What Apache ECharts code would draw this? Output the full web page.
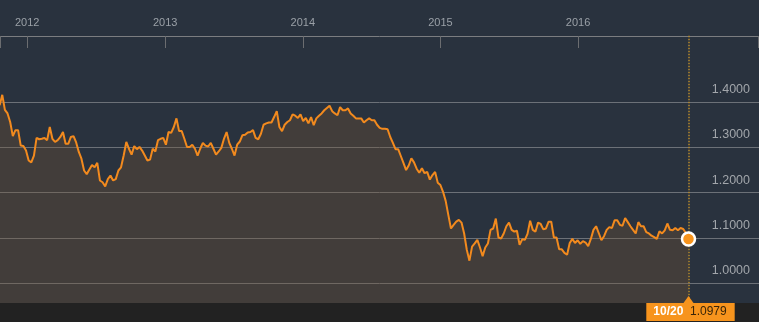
<!DOCTYPE html>
<html><head><meta charset="utf-8">
<script src="https://cdn.jsdelivr.net/npm/echarts@6/dist/echarts.min.js"></script>
<style>html,body{margin:0;padding:0;background:#29323e;overflow:hidden}#c{width:759px;height:330px}</style>
</head><body><div id="c"></div>
<script>
// Weekly EUR/USD closes, first week 2011-10-20, last week 2016-10-20
const firstWeek = [2011, 9, 20];
const rateA = [1.393,1.416,1.383,1.375,1.356,1.325,1.338,1.338,1.304,1.303,1.293,1.271,1.267,1.282,1.321,1.318,1.319,1.321,1.316,1.345,1.319,1.312,1.316,1.323,1.334,1.308,1.308,1.323,1.325,1.311,1.290,1.275,1.249,1.241,1.251,1.261,1.256,1.266,1.227,1.223,1.214,1.230,1.238,1.227,1.230,1.249,1.256,1.282,1.312,1.297,1.284,1.303,1.296,1.301,1.293];
const rateB = [1.282,1.271,1.273,1.297,1.291,1.316,1.319,1.321,1.306,1.334,1.332,1.345,1.364,1.336,1.336,1.319,1.301,1.301,1.306,1.297,1.282,1.297,1.310,1.304,1.302,1.310,1.297,1.284,1.291,1.299,1.319,1.334,1.310,1.297,1.282,1.306,1.313,1.327,1.328,1.333,1.334,1.338,1.321,1.318,1.330,1.350,1.353,1.355,1.355,1.367,1.380,1.345];
const rateC = [1.336,1.350,1.356,1.360,1.373,1.370,1.365,1.373,1.358,1.365,1.353,1.367,1.349,1.364,1.370,1.375,1.382,1.387,1.392,1.380,1.375,1.371,1.389,1.382,1.382,1.386,1.375,1.370,1.364,1.364,1.364,1.355,1.360,1.364,1.360,1.360,1.350,1.343,1.341,1.341,1.340,1.323,1.310,1.296,1.296,1.281,1.266,1.250,1.260,1.276,1.267,1.253,1.244];
const rateD = [1.254,1.243,1.246,1.229,1.239,1.246,1.222,1.217,1.202,1.182,1.151,1.121,1.129,1.136,1.140,1.134,1.110,1.074,1.050,1.081,1.088,1.096,1.079,1.060,1.079,1.088,1.118,1.121,1.143,1.101,1.099,1.110,1.126,1.134,1.118,1.114,1.116,1.085,1.097,1.096,1.109,1.138,1.118,1.114,1.134,1.131,1.119,1.121,1.136,1.136,1.101,1.101,1.075,1.075];
const rateE = [1.067,1.063,1.089,1.098,1.089,1.095,1.087,1.093,1.090,1.082,1.098,1.118,1.126,1.111,1.095,1.104,1.118,1.124,1.122,1.139,1.139,1.129,1.127,1.144,1.135,1.126,1.118,1.110,1.135,1.126,1.126,1.113,1.110,1.105,1.102,1.098,1.115,1.110,1.117,1.132,1.118,1.117,1.122,1.117,1.122,1.120,1.111,1.0979];
const yTicks = [1.0, 1.1, 1.2, 1.3, 1.4];
const yearLabels = ['2012', '2013', '2014', '2015', '2016'];

const values = [].concat(rateA, rateB, rateC, rateD, rateE);
const dates = values.map((_, i) => new Date(firstWeek[0], firstWeek[1], firstWeek[2] + i * 7).getTime());
const seriesData = dates.map((d, i) => [d, values[i]]);
const lastDate = dates[dates.length - 1];
const lastValue = values[values.length - 1];
const yearStarts = yearLabels.map(y => new Date(+y, 0, 1).getTime());

const DAY = 86400000;
const X_MIN = new Date(2011, 9, 21).getTime();
const X_MAX = new Date(2017, 3, 25).getTime();
const Y_MIN = 0.9, Y_MAX = 1.6;
const Y_VIEW_TOP = 1.5464, Y_VIEW_BOTTOM = 0.9565;
const FONT = '"Liberation Sans", Arial, sans-serif';
const ORANGE = '#f7941d';
const GRID_COLOR = '#6c7178';

const pad2 = n => String(n).padStart(2, '0');
const ld = new Date(lastDate);
const tagText = `{d|${pad2(ld.getMonth() + 1)}/${pad2(ld.getDate())}}  {v|${lastValue.toFixed(4)}}`;

const chart = echarts.init(document.getElementById('c'), null, {renderer: 'canvas'});
chart.setOption({
  backgroundColor: '#29323e',
  animation: false,
  grid: {left: 0, right: 0, top: 11.5, height: 317.1, containLabel: false},
  xAxis: [{
    type: 'time', min: X_MIN, max: X_MAX, show: false
  }, {
    type: 'value', position: 'top', offset: -24.5, min: X_MIN, max: X_MAX,
    axisLine: {show: true, lineStyle: {color: '#7b7d80', width: 1}},
    axisTick: {show: true, inside: true, length: 12,
      customValues: [X_MIN + DAY * 1.5].concat(yearStarts, [X_MAX - DAY * 1.5]),
      lineStyle: {color: '#6b6d70', width: 1}},
    axisLabel: {
      show: true, margin: 8, color: '#9aa0a7', fontSize: 11, fontFamily: FONT,
      customValues: yearStarts,
      formatter: v => String(new Date(v).getFullYear())
    },
    splitLine: {show: false}
  }],
  yAxis: {
    type: 'value', position: 'right', min: Y_MIN, max: Y_MAX, interval: 0.1,
    axisLine: {show: false}, axisTick: {show: false},
    axisLabel: {
      inside: true, margin: 9, color: '#a2a6ab', fontSize: 12.5, fontFamily: FONT,
      verticalAlign: 'bottom', padding: [0, 0, 6, 0],
      formatter: v => yTicks.some(t => Math.abs(t - v) < 1e-6) ? v.toFixed(4) : ''
    },
    splitLine: {show: true, showMinLine: false, showMaxLine: false,
      lineStyle: {color: [GRID_COLOR, GRID_COLOR, GRID_COLOR, GRID_COLOR, GRID_COLOR, 'rgba(0,0,0,0)'], width: 1}}
  },
  graphic: [{type: 'rect', z: 4, shape: {x: 0, y: 303, width: 759, height: 27}, style: {fill: '#222222'}}],
  series: [{
    type: 'line', xAxisIndex: 0, data: seriesData, showSymbol: false, symbol: 'none', z: 3,
    lineStyle: {color: '#f28a1e', width: 2},
    areaStyle: {color: 'rgba(120,84,50,0.45)', origin: 'start'},
    markLine: {
      z: 5, silent: true, symbol: ['none', 'none'],
      lineStyle: {color: '#b88a2c', type: 'dotted', width: 1.5},
      label: {show: true, position: 'end', distance: 0, formatter: () => tagText,
        backgroundColor: ORANGE, padding: [3, 8, 3, 7], offset: [2, 0],
        rich: {d: {color: '#ffffff', fontWeight: 'bold', fontSize: 12, fontFamily: FONT},
               v: {color: '#3a2508', fontSize: 12, fontFamily: FONT}}},
      emphasis: {disabled: true},
      data: [[{coord: [lastDate, Y_VIEW_TOP]}, {coord: [lastDate, Y_VIEW_BOTTOM]}]]
    },
    markPoint: {
      z: 6, silent: true, label: {show: false},
      data: [
        {coord: [lastDate, Y_VIEW_BOTTOM], symbol: 'triangle', symbolSize: [10, 7], symbolOffset: [0, -3.5], itemStyle: {color: ORANGE}},
        {coord: [lastDate, lastValue], symbol: 'circle', symbolSize: 13, itemStyle: {color: ORANGE, borderColor: '#ffffff', borderWidth: 2.5}}
      ]
    }
  }]
});
</script>
</body></html>
